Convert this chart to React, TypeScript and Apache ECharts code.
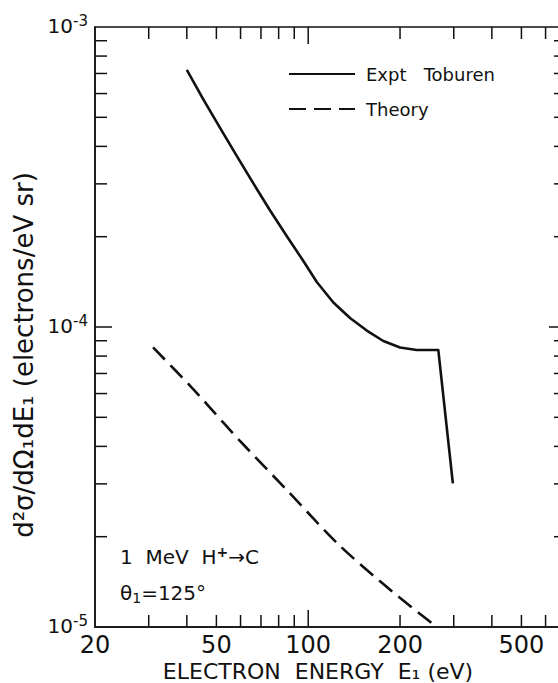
import React, { useEffect, useRef } from 'react';
import * as echarts from 'echarts';

// Experimental curve (Toburen)
const exptEnergy = [40, 45.3, 51.4, 58.3, 66.1, 74.9, 85, 96.4, 106.7, 120.9, 137.1, 155.6, 176.3, 200, 226.8, 267, 298];
const exptValue = [7.19e-4, 5.74e-4, 4.61e-4, 3.72e-4, 3.01e-4, 2.45e-4, 2.01e-4, 1.66e-4, 1.413e-4, 1.207e-4, 1.072e-4, 9.73e-5, 8.98e-5, 8.54e-5, 8.38e-5, 8.38e-5, 3.01e-5];
// Theory curve
const theoryEnergy = [31, 41.6, 52.8, 59.5, 86.5, 126, 189, 264];
const theoryValue = [8.55e-5, 6.27e-5, 4.79e-5, 4.19e-5, 2.81e-5, 1.88e-5, 1.31e-5, 1.0e-5];

// Axes
const xTickLabels = [20, 50, 100, 200, 500];
const xMinorTicks = [30, 40, 50, 60, 70, 80, 90, 200, 300, 400, 500, 600];
const xMajorTicks = [100];
const yMinorTicks = [2e-5, 3e-5, 4e-5, 5e-5, 6e-5, 7e-5, 8e-5, 9e-5, 2e-4, 3e-4, 4e-4, 5e-4, 6e-4, 7e-4, 8e-4, 9e-4];
const yMajorTicks = [1e-4];
const X_MIN = 20;
const X_MAX = 700;
const Y_MIN = 1e-5;
const Y_MAX = 1e-3;

const FONT = '"DejaVu Sans", "Liberation Sans", sans-serif';
const INK = '#111';
const EXPT = 'Expt   Toburen';
const THEORY = 'Theory';

export default function App() {
  const ref = useRef<HTMLDivElement>(null);
  useEffect(() => {
    if (!ref.current) return;
    const chart = echarts.init(ref.current, undefined, { renderer: 'svg' });

    const xTickData = [
      ...xMinorTicks.map((v) => [v, Y_MIN, 0]),
      ...xMajorTicks.map((v) => [v, Y_MIN, 1]),
    ];
    const yTickData = [
      ...yMinorTicks.map((v) => [X_MIN, v, 0]),
      ...yMajorTicks.map((v) => [X_MIN, v, 1]),
    ];

    const option: any = {
      animation: false,
      backgroundColor: '#fff',
      grid: {
        left: 95,
        top: 27,
        right: -8,
        bottom: 56,
        outerBoundsMode: 'none',
        containLabel: false,
        show: true,
        borderColor: INK,
        borderWidth: 1.5,
        backgroundColor: 'transparent',
      },
      legend: {
        orient: 'vertical',
        left: 283,
        top: 60,
        itemWidth: 66,
        itemHeight: 18,
        itemGap: 17,
        selectedMode: false,
        itemStyle: { opacity: 0 },
        data: [EXPT, THEORY],
        textStyle: { fontFamily: FONT, fontSize: 18, color: INK, lineHeight: 18, padding: [0, 0, 0, 6] },
      },
      xAxis: {
        type: 'log',
        logBase: 10,
        min: X_MIN,
        max: X_MAX,
        name: 'ELECTRON  ENERGY  E₁ (eV)',
        nameLocation: 'middle',
        nameGap: 33,
        nameTextStyle: { fontFamily: FONT, fontSize: 22, color: INK, padding: [0, 25, 0, 0] },
        axisLine: { show: true, lineStyle: { color: INK, width: 1.5 } },
        axisTick: { show: false },
        axisLabel: { show: false },
        splitLine: { show: false },
      },
      yAxis: {
        type: 'log',
        logBase: 10,
        min: Y_MIN,
        max: Y_MAX,
        name: 'd²σ/dΩ₁dE₁ (electrons/eV sr)',
        nameLocation: 'middle',
        nameRotate: 90,
        nameGap: 58,
        nameTextStyle: { fontFamily: FONT, fontSize: 26, color: INK, padding: [0, 56, 0, 0] },
        axisLine: { show: true, lineStyle: { color: INK, width: 1.5 } },
        axisTick: { show: false },
        splitLine: { show: false },
        axisLabel: {
          showMinLabel: true,
          showMaxLabel: true,
          margin: 7,
          padding: [0, 0, 5, 0],
          formatter: (v: number) => `{b|10}{s|-${Math.round(-Math.log10(v))}}`,
          rich: {
            b: { fontFamily: FONT, fontSize: 20, lineHeight: 22, color: INK, verticalAlign: 'bottom' },
            s: { fontFamily: FONT, fontSize: 15, lineHeight: 15, color: INK, verticalAlign: 'top', padding: [0, 0, 12, 0] },
          },
        },
      },
      series: [
        {
          name: EXPT,
          type: 'line',
          data: exptEnergy.map((x, i) => [x, exptValue[i]]),
          showSymbol: false,
          symbol: 'none',
          lineStyle: { color: INK, width: 2.6, type: 'solid', join: 'round' },
          itemStyle: { color: INK },
        },
        {
          name: THEORY,
          type: 'line',
          data: theoryEnergy.map((x, i) => [x, theoryValue[i]]),
          showSymbol: false,
          symbol: 'none',
          smooth: 0.3,
          lineStyle: { color: INK, width: 2.6, type: [17, 8] },
          itemStyle: { color: INK },
        },
        {
          type: 'custom',
          silent: true,
          data: xTickData,
          renderItem: (params: any, api: any) => {
            const p = api.coord([api.value(0), api.value(1)]);
            const cs = params.coordSys;
            const len = api.value(2) ? 17 : 12;
            const st = { stroke: INK, lineWidth: 1.5 };
            return {
              type: 'group',
              children: [
                { type: 'line', shape: { x1: p[0], y1: cs.y + cs.height, x2: p[0], y2: cs.y + cs.height - len }, style: st },
                { type: 'line', shape: { x1: p[0], y1: cs.y, x2: p[0], y2: cs.y + len }, style: st },
              ],
            };
          },
        },
        {
          type: 'custom',
          silent: true,
          data: yTickData,
          renderItem: (params: any, api: any) => {
            const p = api.coord([api.value(0), api.value(1)]);
            const cs = params.coordSys;
            const len = api.value(2) ? 17 : 12;
            const st = { stroke: INK, lineWidth: 1.5 };
            return {
              type: 'group',
              children: [
                { type: 'line', shape: { x1: cs.x, y1: p[1], x2: cs.x + len, y2: p[1] }, style: st },
                { type: 'line', shape: { x1: cs.x + cs.width, y1: p[1], x2: cs.x + cs.width - len, y2: p[1] }, style: st },
              ],
            };
          },
        },
        {
          type: 'custom',
          silent: true,
          data: xTickLabels.map((v) => [v, Y_MIN]),
          renderItem: (params: any, api: any) => {
            const p = api.coord([api.value(0), api.value(1)]);
            return {
              type: 'text',
              x: p[0],
              y: p[1] + 18,
              style: {
                text: String(api.value(0)),
                align: 'center',
                verticalAlign: 'middle',
                fontFamily: FONT,
                fontSize: 24,
                fill: INK,
              },
            };
          },
        },
      ],
      graphic: [
        {
          type: 'text',
          x: 120,
          y: 556,
          style: {
            text: '{a|1  MeV  H}{p|+}{a|→C}',
            verticalAlign: 'middle',
            rich: {
              a: { fontFamily: FONT, fontSize: 20, lineHeight: 22, fill: INK, verticalAlign: 'bottom' },
              p: { fontFamily: FONT, fontSize: 14, lineHeight: 14, fill: INK, verticalAlign: 'top', padding: [0, 0, 10, 0], fontWeight: 'bold' },
            },
          },
        },
        {
          type: 'text',
          x: 120,
          y: 594,
          style: {
            text: '{a|θ}{sub|1}{a|=125°}',
            verticalAlign: 'middle',
            rich: {
              a: { fontFamily: FONT, fontSize: 20, lineHeight: 22, fill: INK, verticalAlign: 'top' },
              sub: { fontFamily: FONT, fontSize: 14, lineHeight: 14, fill: INK, verticalAlign: 'bottom', padding: [10, 0, 0, 0] },
            },
          },
        },
      ],
    };
    chart.setOption(option);
    return () => chart.dispose();
  }, []);
  return (
    <div
      ref={ref}
      style={{ position: 'fixed', left: 0, top: 0, width: 558, height: 683 }}
    />
  );
}
